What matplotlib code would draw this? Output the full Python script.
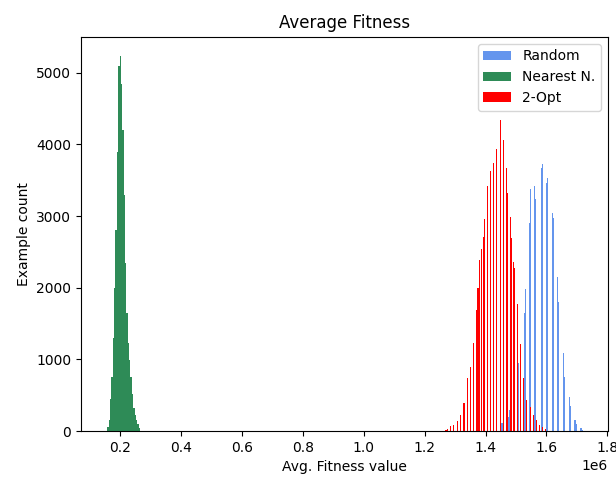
"""Average fitness histograms for three TSP tour heuristics."""

import matplotlib
matplotlib.use("Agg")
import matplotlib.pyplot as plt
import numpy as np

# Nearest neighbour: contiguous bins (values in 1e6 units)
nn_start = 0.157
nn_width = 0.0045
nn_counts = [60, 150, 450, 750, 1300, 2000, 2800, 3900, 5100, 5240, 4850, 4200,
             3300, 2350, 1650, 1230, 990, 760, 520, 330, 230, 150, 100, 40]

# 2-Opt: sparse thin bars (value in 1e6 units, count)
opt_x = [1.263, 1.270, 1.276, 1.285, 1.296, 1.307, 1.318, 1.329, 1.340, 1.351,
         1.361, 1.370, 1.375, 1.381, 1.386, 1.393, 1.396, 1.405, 1.416, 1.426,
         1.437, 1.448, 1.459, 1.470, 1.473, 1.481, 1.484, 1.492, 1.495, 1.504,
         1.515, 1.525, 1.535, 1.546, 1.556, 1.566, 1.578, 1.587, 1.596]
opt_counts = [5, 23, 37, 70, 84, 144, 223, 395, 736, 898,
              1225, 1690, 1993, 2388, 2538, 2714, 2957, 3422, 3631, 3747,
              3934, 4344, 4064, 3669, 3320, 2985, 2691, 2365, 2272, 1774,
              1215, 736, 433, 331, 230, 154, 84, 60, 37]

# Random: groups of two adjacent thin bars (group centre, left count, right count)
rnd_x = [1.452, 1.477, 1.507, 1.528, 1.5465, 1.5636, 1.5843, 1.6008, 1.6216,
         1.638, 1.6578, 1.6765, 1.6953, 1.715]
rnd_left = [40, 200, 810, 1650, 2900, 3420, 3670, 3460, 3050, 2155, 1085, 470, 154, 45]
rnd_right = [107, 293, 950, 1990, 3380, 3240, 3730, 3530, 2970, 1800, 760, 350, 100, 15]

scale = 1e6
sub_w = 0.0035

fig, ax = plt.subplots(figsize=(6.16, 4.78), dpi=100)
plt.subplots_adjust(left=0.1315, right=0.987, bottom=0.098, top=0.923)

rx = np.array(rnd_x)
h_rnd = ax.bar((rx - sub_w / 2) * scale, rnd_left, width=sub_w * scale,
               color='cornflowerblue', linewidth=0, label='Random')
ax.bar((rx + sub_w / 2) * scale, rnd_right, width=sub_w * scale,
       color='cornflowerblue', linewidth=0)

nn_edges = (nn_start + nn_width * np.arange(len(nn_counts) + 1)) * scale
nn_centres = (nn_edges[:-1] + nn_edges[1:]) / 2
_, _, h_nn = ax.hist(nn_centres, bins=nn_edges, weights=nn_counts,
                     color='seagreen', label='Nearest N.')

h_opt = ax.bar(np.array(opt_x) * scale, opt_counts, width=0.0036 * scale,
               color='red', linewidth=0, label='2-Opt')

ax.set_xlim(0.071 * scale, 1.802 * scale)
ax.set_title('Average Fitness')
ax.set_xlabel('Avg. Fitness value')
ax.set_ylabel('Example count')
ax.legend([h_rnd, h_nn, h_opt], ['Random', 'Nearest N.', '2-Opt'], loc='upper right')

plt.savefig('out.png')
